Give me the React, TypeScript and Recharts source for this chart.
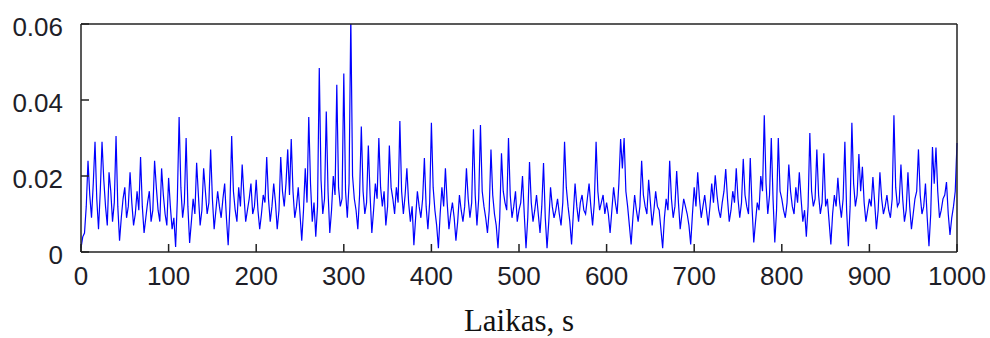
import React from 'react';
import { LineChart, Line, XAxis, YAxis } from 'recharts';

// sample spacing of the signal, seconds
const timeStepS = 2;

// signal, one value every 2 s from 0 to 1000 s (one row = 100 s)
const signal = [
  0.001, 0.004, 0.005, 0.012, 0.024, 0.015, 0.009, 0.018, 0.029, 0.014, 0.006, 0.016, 0.029, 0.019, 0.012, 0.007, 0.021, 0.016, 0.008, 0.013, 0.0305, 0.012, 0.003, 0.009, 0.014,
  0.017, 0.009, 0.012, 0.021, 0.013, 0.007, 0.010, 0.016, 0.011, 0.025, 0.012, 0.005, 0.009, 0.013, 0.016, 0.008, 0.011, 0.024, 0.017, 0.011, 0.008, 0.022, 0.015, 0.010, 0.007,
  0.0195, 0.012, 0.006, 0.009, 0.0013, 0.014, 0.0355, 0.017, 0.009, 0.013, 0.030, 0.012, 0.0024, 0.008, 0.014, 0.010, 0.0235, 0.015, 0.007, 0.011, 0.022, 0.016, 0.010, 0.013, 0.027,
  0.014, 0.006, 0.011, 0.016, 0.012, 0.009, 0.014, 0.018, 0.009, 0.0018, 0.012, 0.0305, 0.016, 0.011, 0.008, 0.017, 0.012, 0.023, 0.015, 0.008, 0.011, 0.014, 0.018, 0.010, 0.012,
  0.019, 0.011, 0.006, 0.010, 0.015, 0.013, 0.025, 0.014, 0.008, 0.012, 0.018, 0.013, 0.006, 0.011, 0.025, 0.016, 0.012, 0.018, 0.027, 0.015, 0.0297, 0.016, 0.009, 0.012, 0.017,
  0.010, 0.003, 0.011, 0.022, 0.013, 0.0355, 0.018, 0.008, 0.013, 0.004, 0.012, 0.0484, 0.019, 0.010, 0.014, 0.037, 0.016, 0.005, 0.011, 0.020, 0.015, 0.044, 0.017, 0.012, 0.014,
  0.047, 0.016, 0.009, 0.018, 0.062, 0.020, 0.014, 0.011, 0.006, 0.015, 0.033, 0.016, 0.010, 0.013, 0.028, 0.015, 0.005, 0.011, 0.018, 0.014, 0.030, 0.017, 0.012, 0.016, 0.007,
  0.012, 0.028, 0.017, 0.014, 0.010, 0.017, 0.013, 0.0345, 0.016, 0.010, 0.015, 0.022, 0.013, 0.008, 0.012, 0.0018, 0.009, 0.016, 0.012, 0.009, 0.014, 0.0247, 0.012, 0.006, 0.013,
  0.034, 0.017, 0.011, 0.007, 0.001, 0.010, 0.017, 0.012, 0.022, 0.013, 0.006, 0.010, 0.013, 0.009, 0.003, 0.008, 0.015, 0.011, 0.008, 0.012, 0.022, 0.014, 0.009, 0.013, 0.0323,
  0.015, 0.007, 0.014, 0.0334, 0.016, 0.012, 0.009, 0.005, 0.011, 0.027, 0.015, 0.010, 0.007, 0.001, 0.009, 0.026, 0.016, 0.013, 0.011, 0.030, 0.015, 0.009, 0.012, 0.016, 0.008,
  0.011, 0.013, 0.020, 0.010, 0.001, 0.009, 0.0237, 0.013, 0.008, 0.011, 0.015, 0.010, 0.005, 0.012, 0.0234, 0.009, 0.001, 0.008, 0.017, 0.012, 0.009, 0.011, 0.014, 0.010, 0.007,
  0.013, 0.029, 0.017, 0.012, 0.008, 0.002, 0.010, 0.018, 0.012, 0.008, 0.013, 0.015, 0.011, 0.010, 0.014, 0.018, 0.012, 0.007, 0.013, 0.029, 0.016, 0.011, 0.013, 0.015, 0.010,
  0.013, 0.010, 0.005, 0.011, 0.017, 0.013, 0.010, 0.018, 0.0297, 0.022, 0.030, 0.016, 0.012, 0.007, 0.002, 0.009, 0.015, 0.011, 0.008, 0.012, 0.024, 0.015, 0.012, 0.010, 0.019,
  0.013, 0.007, 0.011, 0.016, 0.012, 0.011, 0.006, 0.001, 0.009, 0.014, 0.011, 0.024, 0.014, 0.009, 0.012, 0.0213, 0.013, 0.006, 0.010, 0.014, 0.012, 0.010, 0.007, 0.002, 0.010,
  0.017, 0.012, 0.021, 0.014, 0.009, 0.012, 0.015, 0.011, 0.007, 0.012, 0.018, 0.013, 0.0202, 0.015, 0.011, 0.009, 0.013, 0.016, 0.0218, 0.014, 0.008, 0.011, 0.016, 0.013, 0.022,
  0.014, 0.009, 0.013, 0.0245, 0.015, 0.012, 0.010, 0.0247, 0.012, 0.0025, 0.008, 0.013, 0.011, 0.020, 0.016, 0.036, 0.018, 0.010, 0.015, 0.030, 0.014, 0.0025, 0.011, 0.030, 0.016,
  0.014, 0.011, 0.009, 0.013, 0.023, 0.016, 0.012, 0.010, 0.017, 0.013, 0.021, 0.014, 0.008, 0.011, 0.004, 0.012, 0.0313, 0.016, 0.012, 0.014, 0.027, 0.015, 0.010, 0.013, 0.026,
  0.012, 0.014, 0.008, 0.002, 0.010, 0.015, 0.012, 0.0195, 0.013, 0.009, 0.014, 0.029, 0.011, 0.0015, 0.012, 0.034, 0.018, 0.012, 0.015, 0.0258, 0.016, 0.0224, 0.013, 0.008, 0.011,
  0.014, 0.012, 0.0197, 0.013, 0.006, 0.011, 0.021, 0.014, 0.010, 0.012, 0.015, 0.011, 0.009, 0.014, 0.036, 0.017, 0.012, 0.013, 0.023, 0.014, 0.008, 0.011, 0.021, 0.012, 0.006,
  0.010, 0.014, 0.016, 0.027, 0.015, 0.010, 0.012, 0.018, 0.009, 0.0015, 0.010, 0.0276, 0.018, 0.0275, 0.016, 0.009, 0.011, 0.014, 0.015, 0.0184, 0.010, 0.0045, 0.009, 0.012, 0.016,
  0.0287,
];

const xTicks = [0, 100, 200, 300, 400, 500, 600, 700, 800, 900, 1000];
const yTicks = [0, 0.02, 0.04, 0.06];

const chartData = signal.map((v, i) => ({ t: i * timeStepS, v }));

const axisColor = '#222';
const frameLine = { stroke: axisColor, strokeWidth: 1.5 };
const tickFont = { fill: '#1e1e28', fontSize: 26, fontFamily: 'Liberation Sans, Arial, sans-serif' };

const fmtY = (v: number) => (v === 0 ? '0' : v.toFixed(2));

export default function App() {
  return (
    <div style={{ position: 'absolute', left: 0, top: 0, width: 990, height: 338, background: '#fff' }}>
      <LineChart width={990} height={338} data={chartData} margin={{ top: 23, right: 32, bottom: 6, left: 11 }}>
        <XAxis
          xAxisId="b"
          dataKey="t"
          type="number"
          domain={[0, 1000]}
          ticks={xTicks}
          interval={0}
          height={80}
          tickSize={-8}
          tickMargin={23}
          axisLine={frameLine}
          tickLine={frameLine}
          tick={tickFont}
          label={{
            value: 'Laikas, s',
            position: 'insideBottom',
            offset: 1,
            style: { fill: '#111', fontSize: 31, fontFamily: 'Liberation Serif, Times New Roman, serif' },
          }}
        />
        <XAxis
          xAxisId="top"
          orientation="top"
          dataKey="t"
          type="number"
          domain={[0, 1000]}
          ticks={xTicks}
          interval={0}
          height={1}
          tickSize={-8}
          tick={false}
          axisLine={frameLine}
          tickLine={frameLine}
        />
        <YAxis
          yAxisId="l"
          type="number"
          domain={[0, 0.06]}
          allowDataOverflow
          ticks={yTicks}
          interval={0}
          width={70}
          tickSize={-8}
          tickMargin={26}
          tickFormatter={fmtY}
          axisLine={frameLine}
          tickLine={frameLine}
          tick={{ ...tickFont, dy: 3 }}
        />
        <YAxis
          yAxisId="r"
          orientation="right"
          type="number"
          domain={[0, 0.06]}
          allowDataOverflow
          ticks={yTicks}
          interval={0}
          width={1}
          tickSize={-8}
          tick={false}
          axisLine={frameLine}
          tickLine={frameLine}
        />
        {/* invisible copy so the top and right frame axes are drawn */}
        <Line
          xAxisId="top"
          yAxisId="r"
          dataKey="v"
          type="linear"
          stroke="none"
          dot={false}
          activeDot={false}
          isAnimationActive={false}
        />
        <Line
          xAxisId="b"
          yAxisId="l"
          dataKey="v"
          type="linear"
          stroke="#0000ff"
          strokeWidth={1.2}
          dot={false}
          isAnimationActive={false}
        />
      </LineChart>
    </div>
  );
}
